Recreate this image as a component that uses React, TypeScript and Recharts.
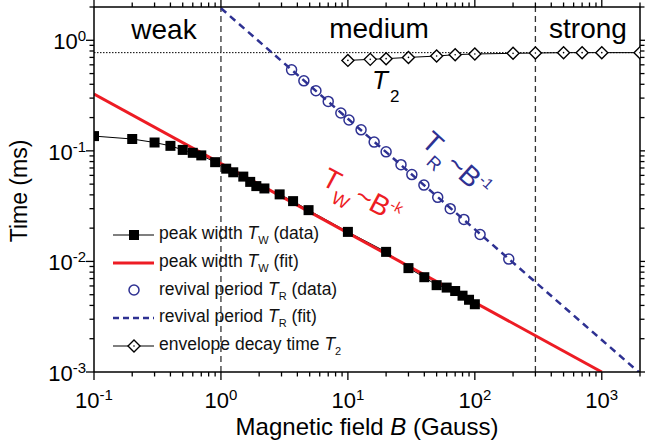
import React from 'react';
import { ComposedChart, Line, Scatter, XAxis, YAxis, ReferenceLine, Legend, Customized } from 'recharts';

// peak width T_W (data), ms
const widthB = [0.1, 0.2, 0.3, 0.4, 0.5, 0.6, 0.7, 0.9, 1.1, 1.25, 1.5, 1.7, 1.9, 2.2, 2.9, 3.7, 4.9, 10, 20, 30, 40, 50, 60, 70, 80, 90, 100];
const widthT = [0.136, 0.128, 0.119, 0.111, 0.102, 0.096, 0.091, 0.079, 0.069, 0.064, 0.0585, 0.0524, 0.048, 0.0457, 0.0404, 0.0351, 0.0291, 0.0185, 0.0122, 0.0087, 0.0072, 0.0061, 0.0058, 0.0054, 0.0049, 0.0045, 0.0041];

// peak width T_W (fit)
const fitWidthB = [0.1, 1000];
const fitWidthT = [0.327, 0.001];

// revival period T_R (data)
const revivalB = [3.6, 4.5, 5.6, 7, 8.8, 10.2, 12.7, 16.1, 20, 26.2, 31.9, 39.7, 51, 64, 82, 110, 185];
const revivalT = [0.54, 0.43, 0.35, 0.28, 0.22, 0.19, 0.155, 0.12, 0.098, 0.075, 0.061, 0.049, 0.038, 0.03, 0.024, 0.0175, 0.0105];

// revival period T_R (fit)
const fitRevivalB = [1, 2000];
const fitRevivalT = [1.95, 0.000975];

// envelope decay time T_2
const decayB = [10, 15, 20, 30, 50, 70, 100, 200, 300, 500, 700, 1000, 2000];
const decayT = [0.658, 0.672, 0.682, 0.7, 0.72, 0.741, 0.752, 0.762, 0.767, 0.773, 0.773, 0.773, 0.773];

const regionBounds = [1, 300];
const t2Level = 0.773;

const xTicks = [0.1, 0.2, 0.3, 0.4, 0.5, 0.6, 0.7, 0.8, 0.9, 1, 2, 3, 4, 5, 6, 7, 8, 9, 10, 20, 30, 40, 50, 60, 70, 80, 90, 100, 200, 300, 400, 500, 600, 700, 800, 900, 1000, 2000];
const yTicks = [0.001, 0.002, 0.003, 0.004, 0.005, 0.006, 0.007, 0.008, 0.009, 0.01, 0.02, 0.03, 0.04, 0.05, 0.06, 0.07, 0.08, 0.09, 0.1, 0.2, 0.3, 0.4, 0.5, 0.6, 0.7, 0.8, 0.9, 1, 2];

const FONT = '"Liberation Sans", Arial, sans-serif';
const RED = '#ed1c24';
const BLUE = '#2e3192';

const zip = (xs: number[], ys: number[]) => xs.map((b, i) => ({ b, t: ys[i] }));
const widthData = zip(widthB, widthT);
const fitWidthData = zip(fitWidthB, fitWidthT);
const revivalData = zip(revivalB, revivalT);
const fitRevivalData = zip(fitRevivalB, fitRevivalT);
const decayData = zip(decayB, decayT);

const isMajor = (v: number) => Math.abs(Math.log10(v) - Math.round(Math.log10(v))) < 1e-6;

const makeTick = (side: 'bottom' | 'top' | 'left' | 'right', labels: boolean) => (props: any) => {
  const { x, y, payload } = props;
  const v = payload.value;
  const major = isMajor(v);
  const len = major ? 8 : 4.5;
  let line;
  if (side === 'bottom') line = <line x1={x} x2={x} y1={y} y2={y + len} stroke="#000" strokeWidth={1.3} />;
  else if (side === 'top') line = <line x1={x} x2={x} y1={y} y2={y - len} stroke="#000" strokeWidth={1.3} />;
  else if (side === 'left') line = <line x1={x} x2={x - len} y1={y} y2={y} stroke="#000" strokeWidth={1.3} />;
  else line = <line x1={x} x2={x + len} y1={y} y2={y} stroke="#000" strokeWidth={1.3} />;
  const exp = Math.round(Math.log10(v));
  let label = null;
  if (labels && major) {
    if (side === 'bottom') {
      label = (
        <text x={x} y={y + 36} textAnchor="middle" fontFamily={FONT} fontSize={22} fill="#000">
          10<tspan dy={-8} fontSize={15}>{exp}</tspan>
        </text>
      );
    } else {
      label = (
        <text x={x - 8} y={y + 9} textAnchor="end" fontFamily={FONT} fontSize={22} fill="#000">
          10<tspan dy={-8} fontSize={15}>{exp}</tspan>
        </text>
      );
    }
  }
  return (
    <g>
      {line}
      {label}
    </g>
  );
};

const Diamond = (props: any) => {
  const { cx, cy } = props;
  if (cx == null || cy == null) return null;
  const r = 6;
  return (
    <g>
      <path d={`M${cx},${cy - r}L${cx + r},${cy}L${cx},${cy + r}L${cx - r},${cy}Z`} fill="#fff" stroke="#000" strokeWidth={1.4} />
      <circle cx={cx} cy={cy} r={0.8} fill="#000" />
    </g>
  );
};

const Square = (props: any) => {
  const { cx, cy } = props;
  if (cx == null || cy == null) return null;
  return <rect x={cx - 5} y={cy - 5} width={10} height={10} fill="#000" />;
};

const Ring = (props: any) => {
  const { cx, cy } = props;
  return <circle cx={cx} cy={cy} r={5} fill="none" stroke={BLUE} strokeWidth={1.5} />;
};

const legendItems = [
  { kind: 'square', pre: 'peak width ', sub: 'W', post: ' (data)' },
  { kind: 'red', pre: 'peak width ', sub: 'W', post: ' (fit)' },
  { kind: 'ring', pre: 'revival period ', sub: 'R', post: ' (data)' },
  { kind: 'dash', pre: 'revival period ', sub: 'R', post: ' (fit)' },
  { kind: 'diamond', pre: 'envelope decay time ', sub: '2', post: '' },
];

const LegendIcon = ({ kind }: { kind: string }) => (
  <svg width={46} height={20} style={{ display: 'block' }}>
    {kind === 'square' && (
      <g>
        <line x1={3} x2={44} y1={10} y2={10} stroke="#000" strokeWidth={1.2} />
        <rect x={19} y={5} width={10} height={10} fill="#000" />
      </g>
    )}
    {kind === 'red' && <line x1={3} x2={44} y1={10} y2={10} stroke={RED} strokeWidth={3} />}
    {kind === 'ring' && <circle cx={24} cy={10} r={5} fill="none" stroke={BLUE} strokeWidth={1.5} />}
    {kind === 'dash' && <line x1={3} x2={44} y1={10} y2={10} stroke={BLUE} strokeWidth={2.5} strokeDasharray="6 4" />}
    {kind === 'diamond' && (
      <g>
        <line x1={3} x2={44} y1={10} y2={10} stroke="#000" strokeWidth={1.2} />
        <path d="M24,4L30,10L24,16L18,10Z" fill="#fff" stroke="#000" strokeWidth={1.4} />
        <circle cx={24} cy={10} r={0.8} fill="#000" />
      </g>
    )}
  </svg>
);

const renderLegend = () => (
  <div style={{ fontFamily: FONT, fontSize: 17.5, color: '#111' }}>
    {legendItems.map((it, i) => (
      <div key={`leg-${i}`} style={{ display: 'flex', alignItems: 'center', height: 27.7, whiteSpace: 'nowrap' }}>
        <LegendIcon kind={it.kind} />
        <span style={{ marginLeft: 3 }}>
          {it.pre}
          <i>T</i>
          <sub style={{ fontSize: 11, verticalAlign: -5 }}>{it.sub}</sub>
          {it.post}
        </span>
      </div>
    ))}
  </div>
);

const Annotations = () => (
  <g fontFamily={FONT}>
    <text x={164} y={39} textAnchor="middle" fontSize={28} fill="#000">weak</text>
    <text x={379} y={38} textAnchor="middle" fontSize={28} fill="#000">medium</text>
    <text x={588} y={38} textAnchor="middle" fontSize={28} fill="#000">strong</text>
    <text x={372} y={89} fontSize={26} fill="#000">
      <tspan fontStyle="italic">T</tspan>
      <tspan dx={2} dy={13} fontSize={17}>2</tspan>
    </text>
    <text transform="translate(420,144) rotate(42)" fontSize={28} fill={BLUE}>
      <tspan>T</tspan>
      <tspan dy={11} fontSize={18}>R</tspan>
      <tspan dx={3} dy={-11}>~B</tspan>
      <tspan dy={-11} fontSize={15}>-1</tspan>
    </text>
    <text transform="translate(320,184) rotate(28)" fontSize={28} fill={RED}>
      <tspan>T</tspan>
      <tspan dy={11} fontSize={18}>W</tspan>
      <tspan dx={3} dy={-11}>~B</tspan>
      <tspan dy={-11} fontSize={15}>-k</tspan>
    </text>
    <text x={367} y={435} textAnchor="middle" fontSize={24} fill="#000">
      Magnetic field <tspan fontStyle="italic">B</tspan> (Gauss)
    </text>
    <text transform="translate(27,191) rotate(-90)" textAnchor="middle" fontSize={23} fill="#000">
      Time (ms)
    </text>
  </g>
);

export default function App() {
  return (
    <div style={{ position: 'absolute', left: 0, top: 0, width: 645, height: 447, background: '#fff' }}>
      <ComposedChart width={645} height={447} margin={{ top: 0, right: 0, bottom: 45, left: 0 }}>
        <XAxis
          dataKey="b"
          type="number"
          scale="log"
          domain={[0.1, 2000]}
          allowDataOverflow
          ticks={xTicks}
          interval={0}
          height={30}
          tickSize={0}
          tickMargin={0}
          tickLine={false}
          axisLine={{ stroke: '#000', strokeWidth: 1.5 }}
          tick={makeTick('bottom', true)}
        />
        <XAxis
          xAxisId="top"
          orientation="top"
          dataKey="b"
          type="number"
          scale="log"
          domain={[0.1, 2000]}
          allowDataOverflow
          ticks={xTicks}
          interval={0}
          height={7}
          tickSize={0}
          tickMargin={0}
          tickLine={false}
          axisLine={{ stroke: '#000', strokeWidth: 1.5 }}
          tick={makeTick('top', false)}
        />
        <YAxis
          type="number"
          scale="log"
          domain={[0.001, 2]}
          allowDataOverflow
          ticks={yTicks}
          interval={0}
          width={94}
          tickSize={0}
          tickMargin={0}
          tickLine={false}
          axisLine={{ stroke: '#000', strokeWidth: 1.5 }}
          tick={makeTick('left', true)}
        />
        <YAxis
          yAxisId="right"
          orientation="right"
          type="number"
          scale="log"
          domain={[0.001, 2]}
          allowDataOverflow
          ticks={yTicks}
          interval={0}
          width={5}
          tickSize={0}
          tickMargin={0}
          tickLine={false}
          axisLine={{ stroke: '#000', strokeWidth: 1.5 }}
          tick={makeTick('right', false)}
        />
        <ReferenceLine y={t2Level} stroke="#000" strokeWidth={1} strokeDasharray="1.5 1.5" />
        {regionBounds.map((b) => (
          <ReferenceLine key={`rb-${b}`} x={b} stroke="#333" strokeWidth={1.3} strokeDasharray="6 4" />
        ))}
        <Line data={fitRevivalData} dataKey="t" stroke={BLUE} strokeWidth={2.5} strokeDasharray="7 5" dot={false} isAnimationActive={false} />
        <Scatter data={revivalData} dataKey="t" shape={<Ring />} isAnimationActive={false} />
        <Line data={widthData} dataKey="t" stroke="#000" strokeWidth={1} dot={<Square />} isAnimationActive={false} />
        <Line data={fitWidthData} dataKey="t" stroke={RED} strokeWidth={3} dot={false} isAnimationActive={false} />
        <Line data={decayData} dataKey="t" stroke="#000" strokeWidth={1} dot={<Diamond />} isAnimationActive={false} />
        <Customized component={<Annotations />} />
        <Legend
          layout="vertical"
          align="center"
          verticalAlign="middle"
          content={renderLegend}
          wrapperStyle={{ left: 110, top: 221, width: 260 }}
        />
      </ComposedChart>
    </div>
  );
}
